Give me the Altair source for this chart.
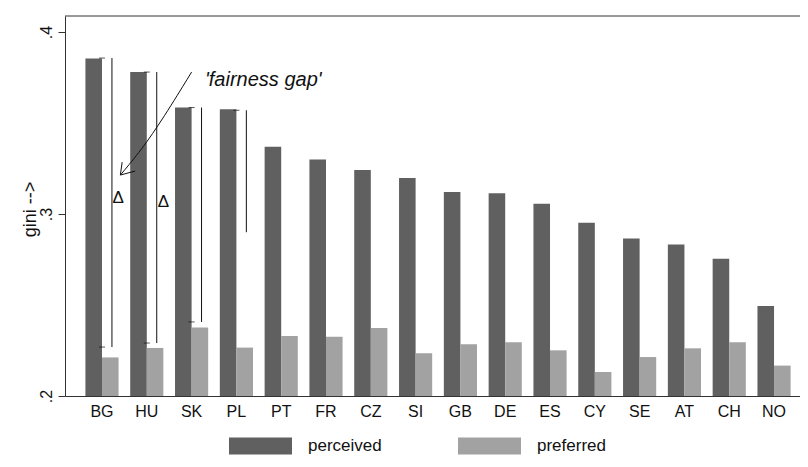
import altair as alt
import pandas as pd

countries = ["BG", "HU", "SK", "PL", "PT", "FR", "CZ", "SI", "GB", "DE", "ES", "CY", "SE", "AT", "CH", "NO"]
perceived = [0.3855, 0.378, 0.3585, 0.3575, 0.337, 0.330, 0.3242, 0.3198, 0.3121, 0.3114, 0.3057, 0.2952, 0.2866, 0.2833, 0.2754, 0.2495]
preferred = [0.2212, 0.2264, 0.2377, 0.2266, 0.233, 0.2326, 0.2374, 0.2235, 0.2284, 0.2295, 0.2251, 0.2132, 0.2214, 0.2262, 0.2295, 0.2167]
series = ["perceived", "preferred"]
colors = ["#606060", "#a2a2a2"]

# hand-drawn annotations (in data units; x as country index)
bracket_countries = ["BG", "HU", "SK", "PL"]
bracket_top = [0.3857, 0.3780, 0.3585, 0.3570]
bracket_bottom = [0.2269, 0.2291, 0.2407, 0.2900]
end_countries = ["BG", "HU", "SK", "PL", "BG", "HU", "SK"]
end_y = [0.3857, 0.3780, 0.3585, 0.3570, 0.2269, 0.2291, 0.2407]
delta_x = [0.36, 1.37]
delta_y = [0.3088, 0.3066]
arrow_x = [2.0, 1.37, 0.88, 0.41]
arrow_y = [0.378, 0.3527, 0.3352, 0.3214]
head_x = [0.45, 0.41, 0.74]
head_y = [0.3285, 0.3214, 0.3236]
label_x = [3.6]
label_y = [0.3736]
label_text = ["'fairness gap'"]

W, H = 735, 380
P_IN, P_OUT, ALIGN = 0.26, 0.3326, 0.685
n = len(countries)
step = W / (n - P_IN + 2 * P_OUT)
lead = (W - step * (n - P_IN)) * ALIGN + step * (1 - P_IN) / 2
lin_lo = -lead / step
lin_hi = (W - lead) / step
FONT = "Liberation Sans"

rows = []
for c, a, b in zip(countries, perceived, preferred):
    rows.append({"country": c, "series": "perceived", "gini": a})
    rows.append({"country": c, "series": "preferred", "gini": b})
df = pd.DataFrame(rows)

yscale = alt.Scale(domain=[0.2, 0.4088], zero=False, nice=False)
xband = alt.Scale(domain=countries, paddingInner=P_IN, paddingOuter=P_OUT, align=ALIGN)

bars = alt.Chart(df).mark_bar(clip=True).encode(
    x=alt.X("country:N", sort=countries, scale=xband, title=None,
            axis=alt.Axis(labelAngle=0, ticks=False, labelPadding=7, labelFontSize=16,
                          labelFont=FONT, labelColor="#111", domain=True, domainColor="#333")),
    xOffset=alt.XOffset("series:N", scale=alt.Scale(domain=series, paddingInner=0, paddingOuter=0)),
    y=alt.Y("gini:Q", scale=yscale, title="gini -->",
            axis=alt.Axis(values=[0.2, 0.3, 0.4], labelExpr="substring(format(datum.value,'.1f'),1)",
                          labelAngle=270, labelFontSize=16, labelFont=FONT, labelColor="#111",
                          tickSize=7, tickColor="#333", domainColor="#333", grid=False, labelPadding=4,
                          titleFont=FONT, titleFontSize=18, titleFontWeight="normal", titleColor="#111",
                          titleAngle=270, titleX=-35, titleY=193, titleBaseline="middle", titleAlign="center")),
    y2=alt.datum(0.2),
    color=alt.Color("series:N", scale=alt.Scale(domain=series, range=colors),
                    legend=alt.Legend(title=None, orient="none", direction="horizontal", legendX=164,
                                      legendY=398, symbolType="M-1,-0.27H1V0.27H-1Z", symbolSize=3969,
                                      symbolStrokeWidth=0, symbolOpacity=1, labelFontSize=17, labelFont=FONT,
                                      labelColor="#111", labelOffset=16, columnPadding=76, padding=0)),
)

bdf = pd.DataFrame({"country": bracket_countries, "top": bracket_top, "bottom": bracket_bottom})
brackets = alt.Chart(bdf).mark_rule(color="#111", strokeWidth=1).encode(
    x=alt.X("country:N", scale=xband, axis=None, bandPosition=0.80),
    y=alt.Y("top:Q", scale=yscale),
    y2="bottom:Q",
)
ends = pd.DataFrame({"country": end_countries, "y": end_y})
bracket_ends = alt.Chart(ends).mark_tick(orient="horizontal", size=6, thickness=1, color="#111").encode(
    x=alt.X("country:N", scale=xband, axis=None, bandPosition=0.71),
    y=alt.Y("y:Q", scale=yscale),
)

xlin = alt.Scale(domain=[lin_lo, lin_hi], nice=False, zero=False)
ddf = pd.DataFrame({"x": delta_x, "y": delta_y, "t": ["Δ", "Δ"]})
deltas = alt.Chart(ddf).mark_text(fontSize=17, font=FONT, color="#111").encode(
    x=alt.X("x:Q", scale=xlin, axis=None),
    y=alt.Y("y:Q", scale=yscale),
    text="t:N",
)
adf = pd.DataFrame({"x": arrow_x, "y": arrow_y, "o": list(range(len(arrow_x)))})
arrow = alt.Chart(adf).mark_line(color="#111", strokeWidth=1, interpolate="basis").encode(
    x=alt.X("x:Q", scale=xlin, axis=None),
    y=alt.Y("y:Q", scale=yscale),
    order="o:Q",
)
hdf = pd.DataFrame({"x": head_x, "y": head_y, "o": list(range(len(head_x)))})
head = alt.Chart(hdf).mark_line(color="#111", strokeWidth=1).encode(
    x=alt.X("x:Q", scale=xlin, axis=None),
    y=alt.Y("y:Q", scale=yscale),
    order="o:Q",
)
ldf = pd.DataFrame({"x": label_x, "y": label_y, "t": label_text})
label = alt.Chart(ldf).mark_text(fontSize=20, font=FONT, fontStyle="italic", color="#111").encode(
    x=alt.X("x:Q", scale=xlin, axis=None),
    y=alt.Y("y:Q", scale=yscale),
    text="t:N",
)

top_line = alt.Chart(pd.DataFrame({"k": [0]})).mark_rule(color="#333", strokeWidth=1).encode(
    x=alt.value(0), x2=alt.value(W), y=alt.value(0)
)

chart = alt.layer(bars, brackets, bracket_ends, deltas, arrow, head, label, top_line).resolve_scale(
    x="independent"
).properties(
    width=W, height=H,
    autosize=alt.AutoSizeParams(type="none"),
    padding={"left": 57, "top": 8, "right": 0, "bottom": 63},
    background="white",
).configure_view(stroke=None)

chart.save("out.html", embed_options={"renderer": "svg", "actions": False})
